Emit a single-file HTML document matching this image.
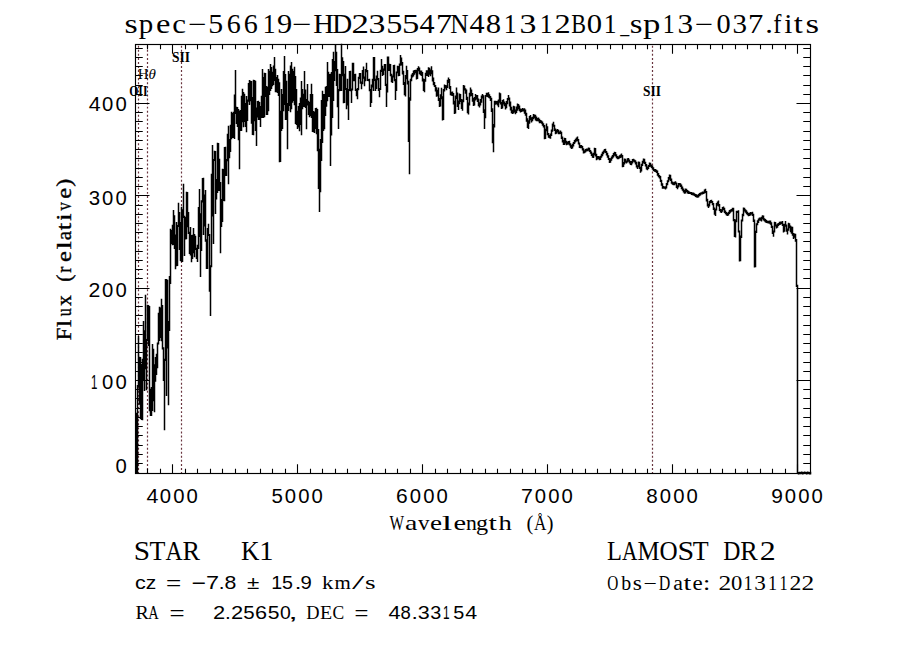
<!DOCTYPE html><html><head><meta charset="utf-8"><title>spec-56619-HD235547N481312B01_sp13-037</title><style>html,body{margin:0;padding:0;background:#fff;overflow:hidden}svg{display:block}text{fill:#000}</style></head><body>
<svg width="900" height="649" viewBox="0 0 900 649">
<rect width="900" height="649" fill="#fff"/>
<line x1="138.5" y1="474" x2="138.5" y2="44" stroke="rgb(105,52,62)" stroke-width="1.2" stroke-dasharray="1.95 2.11"/>
<line x1="147.5" y1="474" x2="147.5" y2="44" stroke="rgb(105,52,62)" stroke-width="1.2" stroke-dasharray="1.95 2.11"/>
<line x1="181.5" y1="474" x2="181.5" y2="44" stroke="rgb(105,52,62)" stroke-width="1.2" stroke-dasharray="1.95 2.11"/>
<line x1="652.5" y1="474" x2="652.5" y2="44" stroke="rgb(105,52,62)" stroke-width="1.2" stroke-dasharray="1.95 2.11"/>
<path d="M147.5 473v-4.3M147.5 45v4.3M160.5 473v-4.3M160.5 45v4.3M172.5 473v-8.7M172.5 45v8.7M185.5 473v-4.3M185.5 45v4.3M197.5 473v-4.3M197.5 45v4.3M210.5 473v-4.3M210.5 45v4.3M222.5 473v-4.3M222.5 45v4.3M235.5 473v-4.3M235.5 45v4.3M247.5 473v-4.3M247.5 45v4.3M260.5 473v-4.3M260.5 45v4.3M272.5 473v-4.3M272.5 45v4.3M285.5 473v-4.3M285.5 45v4.3M297.5 473v-8.7M297.5 45v8.7M310.5 473v-4.3M310.5 45v4.3M322.5 473v-4.3M322.5 45v4.3M335.5 473v-4.3M335.5 45v4.3M347.5 473v-4.3M347.5 45v4.3M360.5 473v-4.3M360.5 45v4.3M372.5 473v-4.3M372.5 45v4.3M385.5 473v-4.3M385.5 45v4.3M397.5 473v-4.3M397.5 45v4.3M410.5 473v-4.3M410.5 45v4.3M422.5 473v-8.7M422.5 45v8.7M435.5 473v-4.3M435.5 45v4.3M447.5 473v-4.3M447.5 45v4.3M460.5 473v-4.3M460.5 45v4.3M472.5 473v-4.3M472.5 45v4.3M485.5 473v-4.3M485.5 45v4.3M497.5 473v-4.3M497.5 45v4.3M510.5 473v-4.3M510.5 45v4.3M522.5 473v-4.3M522.5 45v4.3M535.5 473v-4.3M535.5 45v4.3M547.5 473v-8.7M547.5 45v8.7M560.5 473v-4.3M560.5 45v4.3M572.5 473v-4.3M572.5 45v4.3M585.5 473v-4.3M585.5 45v4.3M597.5 473v-4.3M597.5 45v4.3M610.5 473v-4.3M610.5 45v4.3M622.5 473v-4.3M622.5 45v4.3M635.5 473v-4.3M635.5 45v4.3M647.5 473v-4.3M647.5 45v4.3M660.5 473v-4.3M660.5 45v4.3M672.5 473v-8.7M672.5 45v8.7M685.5 473v-4.3M685.5 45v4.3M697.5 473v-4.3M697.5 45v4.3M710.5 473v-4.3M710.5 45v4.3M722.5 473v-4.3M722.5 45v4.3M735.5 473v-4.3M735.5 45v4.3M747.5 473v-4.3M747.5 45v4.3M760.5 473v-4.3M760.5 45v4.3M772.5 473v-4.3M772.5 45v4.3M785.5 473v-4.3M785.5 45v4.3M797.5 473v-8.7M797.5 45v8.7M136 463.5h6.75M810 463.5h-6.75M136 454.5h6.75M810 454.5h-6.75M136 445.5h6.75M810 445.5h-6.75M136 435.5h6.75M810 435.5h-6.75M136 426.5h6.75M810 426.5h-6.75M136 417.5h6.75M810 417.5h-6.75M136 408.5h6.75M810 408.5h-6.75M136 398.5h6.75M810 398.5h-6.75M136 389.5h6.75M810 389.5h-6.75M136 380.5h13.5M810 380.5h-13.5M136 371.5h6.75M810 371.5h-6.75M136 362.5h6.75M810 362.5h-6.75M136 352.5h6.75M810 352.5h-6.75M136 343.5h6.75M810 343.5h-6.75M136 334.5h6.75M810 334.5h-6.75M136 325.5h6.75M810 325.5h-6.75M136 315.5h6.75M810 315.5h-6.75M136 306.5h6.75M810 306.5h-6.75M136 297.5h6.75M810 297.5h-6.75M136 288.5h13.5M810 288.5h-13.5M136 278.5h6.75M810 278.5h-6.75M136 269.5h6.75M810 269.5h-6.75M136 260.5h6.75M810 260.5h-6.75M136 251.5h6.75M810 251.5h-6.75M136 241.5h6.75M810 241.5h-6.75M136 232.5h6.75M810 232.5h-6.75M136 223.5h6.75M810 223.5h-6.75M136 214.5h6.75M810 214.5h-6.75M136 205.5h6.75M810 205.5h-6.75M136 195.5h13.5M810 195.5h-13.5M136 186.5h6.75M810 186.5h-6.75M136 177.5h6.75M810 177.5h-6.75M136 168.5h6.75M810 168.5h-6.75M136 158.5h6.75M810 158.5h-6.75M136 149.5h6.75M810 149.5h-6.75M136 140.5h6.75M810 140.5h-6.75M136 131.5h6.75M810 131.5h-6.75M136 121.5h6.75M810 121.5h-6.75M136 112.5h6.75M810 112.5h-6.75M136 103.5h13.5M810 103.5h-13.5M136 94.5h6.75M810 94.5h-6.75M136 85.5h6.75M810 85.5h-6.75M136 75.5h6.75M810 75.5h-6.75M136 66.5h6.75M810 66.5h-6.75M136 57.5h6.75M810 57.5h-6.75M136 48.5h6.75M810 48.5h-6.75" stroke="#000" stroke-width="1.1" fill="none"/>
<rect x="135.5" y="44.5" width="675" height="429" fill="none" stroke="#000" stroke-width="1.15"/>
<path d="M135.75 412.7h1.5v61.4h-1.5zM136.75 384.9h1.5v89.1h-1.5zM137.75 336.0h1.5v51.3h-1.5zM138.75 356.8h1.5v48.0h-1.5zM139.75 356.9h1.5v62.2h-1.5zM140.75 364.1h1.5v55.9h-1.5zM141.75 358.8h1.5v61.4h-1.5zM142.75 320.9h1.5v60.2h-1.5zM143.75 330.3h1.5v60.7h-1.5zM144.75 294.8h1.5v74.4h-1.5zM145.75 339.0h1.5v51.2h-1.5zM146.75 304.7h1.5v36.4h-1.5zM147.75 304.9h1.5v41.1h-1.5zM148.75 306.0h1.5v105.3h-1.5zM149.75 388.7h1.5v27.4h-1.5zM150.75 386.9h1.5v29.2h-1.5zM151.75 344.0h1.5v66.9h-1.5zM152.75 348.8h1.5v52.5h-1.5zM153.75 364.2h1.5v48.0h-1.5zM154.75 357.1h1.5v24.7h-1.5zM155.75 353.8h1.5v21.1h-1.5zM156.75 342.4h1.5v25.8h-1.5zM157.75 312.7h1.5v31.9h-1.5zM158.75 306.8h1.5v34.2h-1.5zM159.75 307.6h1.5v30.3h-1.5zM160.75 298.7h1.5v42.5h-1.5zM161.75 304.9h1.5v44.5h-1.5zM162.75 347.3h1.5v33.7h-1.5zM163.75 358.8h1.5v71.5h-1.5zM164.75 278.9h1.5v82.2h-1.5zM165.75 279.1h1.5v117.0h-1.5zM166.75 279.8h1.5v68.6h-1.5zM167.75 320.9h1.5v84.3h-1.5zM168.75 276.1h1.5v55.0h-1.5zM169.75 228.8h1.5v55.2h-1.5zM170.75 230.1h1.5v13.8h-1.5zM171.75 224.7h1.5v20.5h-1.5zM172.75 209.9h1.5v35.2h-1.5zM173.75 215.3h1.5v33.7h-1.5zM174.75 234.6h1.5v34.7h-1.5zM175.75 221.9h1.5v44.3h-1.5zM176.75 225.0h1.5v41.0h-1.5zM177.75 202.8h1.5v24.2h-1.5zM178.75 211.9h1.5v38.2h-1.5zM179.75 221.9h1.5v39.2h-1.5zM180.75 206.8h1.5v55.2h-1.5zM181.75 209.3h1.5v52.6h-1.5zM182.75 183.7h1.5v34.3h-1.5zM183.75 215.7h1.5v40.4h-1.5zM184.75 217.0h1.5v22.6h-1.5zM185.75 191.7h1.5v47.6h-1.5zM186.75 191.9h1.5v35.3h-1.5zM187.75 212.0h1.5v22.0h-1.5zM188.75 231.8h1.5v22.2h-1.5zM189.75 226.9h1.5v28.7h-1.5zM190.75 235.1h1.5v27.1h-1.5zM191.75 234.8h1.5v24.2h-1.5zM192.75 228.0h1.5v25.2h-1.5zM193.75 234.1h1.5v23.1h-1.5zM194.75 235.8h1.5v14.2h-1.5zM195.75 247.7h1.5v11.4h-1.5zM196.75 244.7h1.5v17.2h-1.5zM197.75 206.9h1.5v42.1h-1.5zM198.75 189.0h1.5v48.1h-1.5zM199.75 213.3h1.5v63.6h-1.5zM200.75 200.2h1.5v50.8h-1.5zM201.75 178.1h1.5v24.4h-1.5zM202.75 177.8h1.5v57.3h-1.5zM203.75 194.4h1.5v32.0h-1.5zM204.75 190.1h1.5v51.7h-1.5zM205.75 239.3h1.5v29.8h-1.5zM206.75 228.0h1.5v41.1h-1.5zM207.75 223.7h1.5v12.2h-1.5zM208.75 233.9h1.5v57.9h-1.5zM209.75 265.3h1.5v50.8h-1.5zM210.75 173.8h1.5v93.5h-1.5zM211.75 144.9h1.5v71.7h-1.5zM212.75 159.0h1.5v85.1h-1.5zM213.75 150.8h1.5v10.3h-1.5zM214.75 150.9h1.5v63.0h-1.5zM215.75 179.1h1.5v20.5h-1.5zM216.75 142.8h1.5v50.3h-1.5zM217.75 143.0h1.5v48.1h-1.5zM218.75 158.7h1.5v32.2h-1.5zM219.75 181.9h1.5v71.4h-1.5zM220.75 199.0h1.5v28.1h-1.5zM221.75 168.7h1.5v53.3h-1.5zM222.75 168.9h1.5v32.0h-1.5zM223.75 147.0h1.5v54.2h-1.5zM224.75 146.8h1.5v29.3h-1.5zM225.75 158.9h1.5v17.1h-1.5zM226.75 133.7h1.5v27.6h-1.5zM227.75 125.8h1.5v58.4h-1.5zM228.75 139.0h1.5v19.3h-1.5zM229.75 124.8h1.5v27.2h-1.5zM230.75 111.8h1.5v27.4h-1.5zM231.75 113.0h1.5v25.1h-1.5zM232.75 111.7h1.5v26.3h-1.5zM233.75 94.5h1.5v44.4h-1.5zM234.75 70.0h1.5v44.0h-1.5zM235.75 106.8h1.5v17.3h-1.5zM236.75 106.9h1.5v20.1h-1.5zM237.75 109.1h1.5v31.2h-1.5zM238.75 110.8h1.5v58.4h-1.5zM239.75 109.9h1.5v21.1h-1.5zM240.75 95.8h1.5v35.2h-1.5zM241.75 88.8h1.5v33.4h-1.5zM242.75 92.0h1.5v35.2h-1.5zM243.75 93.7h1.5v28.2h-1.5zM244.75 102.9h1.5v24.1h-1.5zM245.75 96.0h1.5v36.2h-1.5zM246.75 99.6h1.5v21.5h-1.5zM247.75 82.9h1.5v18.9h-1.5zM248.75 80.0h1.5v24.9h-1.5zM249.75 80.8h1.5v20.4h-1.5zM250.75 80.9h1.5v42.8h-1.5zM251.75 97.1h1.5v37.9h-1.5zM252.75 79.8h1.5v55.5h-1.5zM253.75 80.0h1.5v41.2h-1.5zM254.75 80.7h1.5v50.3h-1.5zM255.75 107.5h1.5v38.4h-1.5zM256.75 101.0h1.5v16.4h-1.5zM257.75 100.7h1.5v19.4h-1.5zM258.75 101.9h1.5v18.1h-1.5zM259.75 105.9h1.5v21.1h-1.5zM260.75 95.8h1.5v22.3h-1.5zM261.75 68.9h1.5v49.2h-1.5zM262.75 76.9h1.5v41.1h-1.5zM263.75 72.8h1.5v44.5h-1.5zM264.75 72.9h1.5v24.2h-1.5zM265.75 86.1h1.5v29.0h-1.5zM266.75 86.8h1.5v28.1h-1.5zM267.75 69.0h1.5v42.3h-1.5zM268.75 70.7h1.5v24.4h-1.5zM269.75 63.9h1.5v27.2h-1.5zM270.75 67.0h1.5v21.9h-1.5zM271.75 71.8h1.5v14.5h-1.5zM272.75 65.6h1.5v19.5h-1.5zM273.75 57.0h1.5v24.0h-1.5zM274.75 68.8h1.5v23.5h-1.5zM275.75 76.9h1.5v15.3h-1.5zM276.75 75.1h1.5v18.0h-1.5zM277.75 78.8h1.5v17.1h-1.5zM278.75 82.3h1.5v80.0h-1.5zM279.75 110.7h1.5v51.4h-1.5zM280.75 88.9h1.5v42.2h-1.5zM281.75 94.0h1.5v34.9h-1.5zM282.75 70.9h1.5v40.3h-1.5zM283.75 55.9h1.5v49.2h-1.5zM284.75 74.0h1.5v46.0h-1.5zM285.75 80.8h1.5v39.1h-1.5zM286.75 102.9h1.5v46.3h-1.5zM287.75 71.1h1.5v40.0h-1.5zM288.75 73.8h1.5v32.2h-1.5zM289.75 65.5h1.5v46.8h-1.5zM290.75 62.1h1.5v47.1h-1.5zM291.75 68.8h1.5v33.9h-1.5zM292.75 71.0h1.5v30.0h-1.5zM293.75 66.7h1.5v38.5h-1.5zM294.75 76.0h1.5v48.1h-1.5zM295.75 89.0h1.5v36.0h-1.5zM296.75 110.8h1.5v18.2h-1.5zM297.75 105.9h1.5v21.5h-1.5zM298.75 103.1h1.5v28.1h-1.5zM299.75 97.6h1.5v27.4h-1.5zM300.75 80.9h1.5v54.3h-1.5zM301.75 89.1h1.5v20.1h-1.5zM302.75 93.8h1.5v13.2h-1.5zM303.75 71.0h1.5v36.0h-1.5zM304.75 89.4h1.5v18.5h-1.5zM305.75 98.9h1.5v30.3h-1.5zM306.75 84.0h1.5v21.4h-1.5zM307.75 100.8h1.5v14.2h-1.5zM308.75 101.9h1.5v15.3h-1.5zM309.75 94.0h1.5v22.1h-1.5zM310.75 83.8h1.5v34.2h-1.5zM311.75 93.9h1.5v38.0h-1.5zM312.75 111.1h1.5v21.1h-1.5zM313.75 111.8h1.5v21.3h-1.5zM314.75 108.0h1.5v21.0h-1.5zM315.75 107.7h1.5v26.6h-1.5zM316.75 108.9h1.5v42.3h-1.5zM317.75 129.0h1.5v60.1h-1.5zM318.75 148.7h1.5v63.2h-1.5zM319.75 138.9h1.5v53.4h-1.5zM320.75 100.0h1.5v61.1h-1.5zM321.75 90.8h1.5v52.3h-1.5zM322.75 93.9h1.5v37.0h-1.5zM323.75 94.1h1.5v35.1h-1.5zM324.75 86.8h1.5v29.3h-1.5zM325.75 86.0h1.5v20.7h-1.5zM326.75 62.1h1.5v39.2h-1.5zM327.75 71.8h1.5v25.3h-1.5zM328.75 74.0h1.5v23.1h-1.5zM329.75 73.7h1.5v92.2h-1.5zM330.75 71.9h1.5v63.7h-1.5zM331.75 59.0h1.5v59.1h-1.5zM332.75 51.8h1.5v49.3h-1.5zM333.75 60.9h1.5v20.0h-1.5zM334.75 44.1h1.5v27.2h-1.5zM335.75 51.8h1.5v34.3h-1.5zM336.75 68.9h1.5v38.3h-1.5zM337.75 89.1h1.5v39.8h-1.5zM338.75 73.8h1.5v17.4h-1.5zM339.75 74.0h1.5v17.1h-1.5zM340.75 43.7h1.5v47.3h-1.5zM341.75 57.2h1.5v19.1h-1.5zM342.75 61.0h1.5v42.2h-1.5zM343.75 73.8h1.5v29.2h-1.5zM344.75 65.9h1.5v24.1h-1.5zM345.75 88.1h1.5v21.1h-1.5zM346.75 78.8h1.5v26.7h-1.5zM347.75 88.9h1.5v31.1h-1.5zM348.75 71.1h1.5v19.8h-1.5zM349.75 70.8h1.5v20.4h-1.5zM350.75 88.4h1.5v14.7h-1.5zM351.75 62.7h1.5v27.7h-1.5zM352.75 62.8h1.5v18.4h-1.5zM353.75 74.0h1.5v7.2h-1.5zM354.75 73.7h1.5v17.3h-1.5zM355.75 88.9h1.5v7.4h-1.5zM356.75 88.0h1.5v11.2h-1.5zM357.75 76.8h1.5v13.4h-1.5zM358.75 72.9h1.5v6.1h-1.5zM359.75 73.1h1.5v10.6h-1.5zM360.75 81.6h1.5v7.7h-1.5zM361.75 70.1h1.5v14.2h-1.5zM362.75 66.6h1.5v12.1h-1.5zM363.75 76.5h1.5v9.8h-1.5zM364.75 69.0h1.5v12.2h-1.5zM365.75 62.7h1.5v9.5h-1.5zM366.75 70.0h1.5v11.0h-1.5zM367.75 79.0h1.5v2.3h-1.5zM368.75 78.8h1.5v12.4h-1.5zM369.75 88.9h1.5v18.1h-1.5zM370.75 84.6h1.5v18.3h-1.5zM371.75 78.8h1.5v8.7h-1.5zM372.75 56.9h1.5v34.2h-1.5zM373.75 57.1h1.5v23.9h-1.5zM374.75 78.8h1.5v12.1h-1.5zM375.75 75.5h1.5v13.5h-1.5zM376.75 70.7h1.5v9.5h-1.5zM377.75 77.9h1.5v13.0h-1.5zM378.75 87.9h1.5v9.4h-1.5zM379.75 69.7h1.5v20.4h-1.5zM380.75 58.9h1.5v13.1h-1.5zM381.75 65.7h1.5v10.3h-1.5zM382.75 68.5h1.5v6.5h-1.5zM383.75 63.9h1.5v6.9h-1.5zM384.75 64.1h1.5v22.0h-1.5zM385.75 83.8h1.5v23.1h-1.5zM386.75 56.5h1.5v35.9h-1.5zM387.75 56.6h1.5v14.5h-1.5zM388.75 63.8h1.5v7.2h-1.5zM389.75 64.0h1.5v12.3h-1.5zM390.75 73.7h1.5v8.5h-1.5zM391.75 75.5h1.5v7.5h-1.5zM392.75 65.0h1.5v12.6h-1.5zM393.75 64.8h1.5v16.5h-1.5zM394.75 78.9h1.5v21.2h-1.5zM395.75 71.4h1.5v19.7h-1.5zM396.75 65.8h1.5v7.5h-1.5zM397.75 65.9h1.5v10.3h-1.5zM398.75 63.5h1.5v12.6h-1.5zM399.75 55.0h1.5v10.7h-1.5zM400.75 57.5h1.5v7.9h-1.5zM401.75 62.1h1.5v12.5h-1.5zM402.75 70.7h1.5v14.3h-1.5zM403.75 82.1h1.5v13.2h-1.5zM404.75 74.9h1.5v21.5h-1.5zM405.75 65.8h1.5v13.4h-1.5zM406.75 69.9h1.5v14.6h-1.5zM407.75 80.8h1.5v61.1h-1.5zM408.75 97.2h1.5v77.0h-1.5zM409.75 78.8h1.5v21.9h-1.5zM410.75 74.6h1.5v6.6h-1.5zM411.75 72.9h1.5v4.7h-1.5zM412.75 70.5h1.5v5.9h-1.5zM413.75 70.0h1.5v4.7h-1.5zM414.75 69.7h1.5v3.6h-1.5zM415.75 69.7h1.5v9.8h-1.5zM416.75 67.9h1.5v11.1h-1.5zM417.75 66.3h1.5v5.0h-1.5zM418.75 67.6h1.5v6.6h-1.5zM419.75 70.5h1.5v4.8h-1.5zM420.75 70.6h1.5v5.3h-1.5zM421.75 71.9h1.5v9.5h-1.5zM422.75 78.5h1.5v12.5h-1.5zM423.75 79.1h1.5v13.1h-1.5zM424.75 72.8h1.5v9.0h-1.5zM425.75 70.2h1.5v5.8h-1.5zM426.75 70.2h1.5v5.7h-1.5zM427.75 67.2h1.5v9.9h-1.5zM428.75 67.8h1.5v6.9h-1.5zM429.75 69.6h1.5v6.6h-1.5zM430.75 66.3h1.5v7.9h-1.5zM431.75 70.2h1.5v11.3h-1.5zM432.75 77.4h1.5v7.8h-1.5zM433.75 82.1h1.5v5.0h-1.5zM434.75 85.1h1.5v6.3h-1.5zM435.75 87.2h1.5v9.6h-1.5zM436.75 89.7h1.5v6.6h-1.5zM437.75 87.6h1.5v13.4h-1.5zM438.75 98.1h1.5v9.0h-1.5zM439.75 94.3h1.5v12.3h-1.5zM440.75 87.7h1.5v11.6h-1.5zM441.75 96.3h1.5v24.2h-1.5zM442.75 88.9h1.5v31.1h-1.5zM443.75 84.4h1.5v7.1h-1.5zM444.75 85.0h1.5v3.6h-1.5zM445.75 85.2h1.5v5.1h-1.5zM446.75 79.7h1.5v8.4h-1.5zM447.75 77.5h1.5v5.6h-1.5zM448.75 79.1h1.5v9.9h-1.5zM449.75 86.0h1.5v9.3h-1.5zM450.75 91.8h1.5v3.9h-1.5zM451.75 91.6h1.5v4.5h-1.5zM452.75 93.0h1.5v11.5h-1.5zM453.75 100.8h1.5v13.2h-1.5zM454.75 95.4h1.5v18.2h-1.5zM455.75 87.4h1.5v11.5h-1.5zM456.75 92.4h1.5v14.6h-1.5zM457.75 100.6h1.5v9.4h-1.5zM458.75 93.5h1.5v10.7h-1.5zM459.75 94.1h1.5v7.8h-1.5zM460.75 98.9h1.5v10.0h-1.5zM461.75 99.5h1.5v11.3h-1.5zM462.75 85.0h1.5v17.3h-1.5zM463.75 85.6h1.5v4.9h-1.5zM464.75 88.3h1.5v5.5h-1.5zM465.75 89.4h1.5v10.7h-1.5zM466.75 96.7h1.5v16.5h-1.5zM467.75 102.4h1.5v12.0h-1.5zM468.75 92.8h1.5v12.6h-1.5zM469.75 87.4h1.5v9.1h-1.5zM470.75 89.4h1.5v6.7h-1.5zM471.75 93.0h1.5v8.8h-1.5zM472.75 98.1h1.5v7.8h-1.5zM473.75 97.1h1.5v8.3h-1.5zM474.75 94.1h1.5v6.4h-1.5zM475.75 94.9h1.5v4.6h-1.5zM476.75 95.1h1.5v7.0h-1.5zM477.75 98.6h1.5v7.7h-1.5zM478.75 102.2h1.5v5.3h-1.5zM479.75 99.0h1.5v6.4h-1.5zM480.75 95.4h1.5v7.3h-1.5zM481.75 94.0h1.5v4.5h-1.5zM482.75 95.2h1.5v17.9h-1.5zM483.75 109.3h1.5v19.6h-1.5zM484.75 94.9h1.5v23.3h-1.5zM485.75 92.7h1.5v4.1h-1.5zM486.75 92.7h1.5v4.2h-1.5zM487.75 92.3h1.5v5.5h-1.5zM488.75 94.2h1.5v4.3h-1.5zM489.75 95.9h1.5v5.0h-1.5zM490.75 97.8h1.5v14.3h-1.5zM491.75 108.3h1.5v34.9h-1.5zM492.75 124.1h1.5v28.2h-1.5zM493.75 100.7h1.5v26.9h-1.5zM494.75 100.8h1.5v4.0h-1.5zM495.75 101.1h1.5v3.2h-1.5zM496.75 100.7h1.5v4.8h-1.5zM497.75 99.5h1.5v7.8h-1.5zM498.75 92.6h1.5v10.1h-1.5zM499.75 93.2h1.5v11.4h-1.5zM500.75 101.9h1.5v7.1h-1.5zM501.75 99.9h1.5v8.5h-1.5zM502.75 99.3h1.5v5.1h-1.5zM503.75 101.5h1.5v4.8h-1.5zM504.75 102.9h1.5v6.5h-1.5zM505.75 101.1h1.5v7.2h-1.5zM506.75 98.1h1.5v6.2h-1.5zM507.75 95.0h1.5v5.3h-1.5zM508.75 97.6h1.5v8.8h-1.5zM509.75 101.5h1.5v9.0h-1.5zM510.75 106.7h1.5v6.5h-1.5zM511.75 109.8h1.5v4.2h-1.5zM512.75 105.7h1.5v7.7h-1.5zM513.75 106.2h1.5v6.3h-1.5zM514.75 109.6h1.5v4.7h-1.5zM515.75 106.4h1.5v6.7h-1.5zM516.75 103.4h1.5v7.3h-1.5zM517.75 104.0h1.5v5.2h-1.5zM518.75 105.4h1.5v5.8h-1.5zM519.75 108.5h1.5v3.9h-1.5zM520.75 109.1h1.5v2.9h-1.5zM521.75 108.1h1.5v3.5h-1.5zM522.75 108.6h1.5v3.0h-1.5zM523.75 108.2h1.5v5.5h-1.5zM524.75 109.6h1.5v6.2h-1.5zM525.75 112.7h1.5v9.1h-1.5zM526.75 118.2h1.5v9.7h-1.5zM527.75 120.3h1.5v8.8h-1.5zM528.75 115.9h1.5v7.8h-1.5zM529.75 114.9h1.5v5.3h-1.5zM530.75 117.3h1.5v5.1h-1.5zM531.75 116.7h1.5v4.6h-1.5zM532.75 114.0h1.5v5.2h-1.5zM533.75 114.6h1.5v3.7h-1.5zM534.75 114.7h1.5v5.9h-1.5zM535.75 116.5h1.5v4.7h-1.5zM536.75 118.0h1.5v3.3h-1.5zM537.75 117.5h1.5v3.9h-1.5zM538.75 118.7h1.5v4.5h-1.5zM539.75 120.0h1.5v3.0h-1.5zM540.75 120.5h1.5v3.3h-1.5zM541.75 121.5h1.5v4.2h-1.5zM542.75 123.3h1.5v4.3h-1.5zM543.75 124.9h1.5v14.3h-1.5zM544.75 128.8h1.5v10.2h-1.5zM545.75 123.5h1.5v7.8h-1.5zM546.75 126.3h1.5v9.0h-1.5zM547.75 133.0h1.5v4.7h-1.5zM548.75 135.1h1.5v3.2h-1.5zM549.75 133.4h1.5v5.4h-1.5zM550.75 129.6h1.5v6.3h-1.5zM551.75 123.4h1.5v8.4h-1.5zM552.75 121.8h1.5v4.9h-1.5zM553.75 124.8h1.5v6.3h-1.5zM554.75 128.5h1.5v5.7h-1.5zM555.75 129.8h1.5v3.9h-1.5zM556.75 129.1h1.5v3.4h-1.5zM557.75 129.7h1.5v4.6h-1.5zM558.75 131.4h1.5v2.8h-1.5zM559.75 130.5h1.5v3.4h-1.5zM560.75 131.7h1.5v7.4h-1.5zM561.75 136.6h1.5v6.0h-1.5zM562.75 139.9h1.5v5.2h-1.5zM563.75 137.8h1.5v7.1h-1.5zM564.75 138.0h1.5v5.5h-1.5zM565.75 140.8h1.5v4.4h-1.5zM566.75 141.7h1.5v3.0h-1.5zM567.75 141.1h1.5v3.3h-1.5zM568.75 140.7h1.5v4.9h-1.5zM569.75 143.2h1.5v4.6h-1.5zM570.75 145.1h1.5v3.9h-1.5zM571.75 143.8h1.5v4.8h-1.5zM572.75 142.0h1.5v4.4h-1.5zM573.75 140.1h1.5v4.0h-1.5zM574.75 138.8h1.5v3.6h-1.5zM575.75 137.6h1.5v3.9h-1.5zM576.75 136.6h1.5v4.7h-1.5zM577.75 138.9h1.5v5.7h-1.5zM578.75 142.6h1.5v5.3h-1.5zM579.75 145.0h1.5v3.3h-1.5zM580.75 144.9h1.5v3.3h-1.5zM581.75 146.1h1.5v4.4h-1.5zM582.75 148.2h1.5v5.2h-1.5zM583.75 150.2h1.5v3.1h-1.5zM584.75 149.0h1.5v3.4h-1.5zM585.75 148.6h1.5v2.8h-1.5zM586.75 148.4h1.5v2.8h-1.5zM587.75 147.6h1.5v3.1h-1.5zM588.75 147.8h1.5v4.2h-1.5zM589.75 150.0h1.5v3.8h-1.5zM590.75 151.5h1.5v4.6h-1.5zM591.75 153.6h1.5v4.1h-1.5zM592.75 152.8h1.5v5.3h-1.5zM593.75 147.7h1.5v7.5h-1.5zM594.75 147.9h1.5v8.7h-1.5zM595.75 153.8h1.5v6.4h-1.5zM596.75 156.1h1.5v3.4h-1.5zM597.75 156.0h1.5v3.3h-1.5zM598.75 156.4h1.5v3.9h-1.5zM599.75 155.7h1.5v4.4h-1.5zM600.75 153.8h1.5v4.0h-1.5zM601.75 151.7h1.5v4.5h-1.5zM602.75 150.4h1.5v3.9h-1.5zM603.75 149.1h1.5v3.5h-1.5zM604.75 148.7h1.5v4.3h-1.5zM605.75 151.0h1.5v4.5h-1.5zM606.75 152.7h1.5v5.0h-1.5zM607.75 155.3h1.5v4.8h-1.5zM608.75 158.0h1.5v5.0h-1.5zM609.75 158.2h1.5v4.6h-1.5zM610.75 156.5h1.5v4.3h-1.5zM611.75 155.1h1.5v3.7h-1.5zM612.75 153.1h1.5v4.3h-1.5zM613.75 151.8h1.5v4.0h-1.5zM614.75 152.0h1.5v4.5h-1.5zM615.75 154.2h1.5v4.0h-1.5zM616.75 156.1h1.5v3.1h-1.5zM617.75 156.5h1.5v2.7h-1.5zM618.75 155.3h1.5v3.1h-1.5zM619.75 154.5h1.5v3.5h-1.5zM620.75 153.5h1.5v3.9h-1.5zM621.75 154.9h1.5v12.3h-1.5zM622.75 162.0h1.5v5.0h-1.5zM623.75 158.6h1.5v5.8h-1.5zM624.75 158.8h1.5v4.0h-1.5zM625.75 160.5h1.5v3.0h-1.5zM626.75 158.2h1.5v4.3h-1.5zM627.75 157.9h1.5v3.9h-1.5zM628.75 159.5h1.5v4.1h-1.5zM629.75 161.1h1.5v4.0h-1.5zM630.75 161.0h1.5v4.2h-1.5zM631.75 159.0h1.5v4.4h-1.5zM632.75 158.7h1.5v3.1h-1.5zM633.75 159.6h1.5v3.0h-1.5zM634.75 160.2h1.5v4.3h-1.5zM635.75 161.8h1.5v5.8h-1.5zM636.75 165.3h1.5v3.8h-1.5zM637.75 161.6h1.5v5.7h-1.5zM638.75 161.8h1.5v7.3h-1.5zM639.75 166.8h1.5v6.0h-1.5zM640.75 163.8h1.5v7.8h-1.5zM641.75 160.8h1.5v5.3h-1.5zM642.75 158.5h1.5v4.7h-1.5zM643.75 158.7h1.5v5.2h-1.5zM644.75 161.7h1.5v4.8h-1.5zM645.75 164.1h1.5v5.4h-1.5zM646.75 166.6h1.5v3.7h-1.5zM647.75 164.9h1.5v4.1h-1.5zM648.75 162.6h1.5v4.3h-1.5zM649.75 162.8h1.5v4.0h-1.5zM650.75 164.5h1.5v3.6h-1.5zM651.75 165.5h1.5v4.0h-1.5zM652.75 167.2h1.5v3.7h-1.5zM653.75 169.1h1.5v2.7h-1.5zM654.75 169.1h1.5v2.9h-1.5zM655.75 169.7h1.5v3.3h-1.5zM656.75 170.5h1.5v5.3h-1.5zM657.75 173.0h1.5v4.3h-1.5zM658.75 175.0h1.5v3.6h-1.5zM659.75 176.0h1.5v5.9h-1.5zM660.75 179.7h1.5v6.0h-1.5zM661.75 183.3h1.5v5.4h-1.5zM662.75 186.0h1.5v2.7h-1.5zM663.75 186.5h1.5v2.3h-1.5zM664.75 186.2h1.5v3.2h-1.5zM665.75 182.9h1.5v5.5h-1.5zM666.75 180.2h1.5v5.0h-1.5zM667.75 177.0h1.5v5.2h-1.5zM668.75 174.4h1.5v5.4h-1.5zM669.75 174.7h1.5v6.4h-1.5zM670.75 178.5h1.5v5.2h-1.5zM671.75 181.5h1.5v3.3h-1.5zM672.75 182.3h1.5v3.0h-1.5zM673.75 181.7h1.5v3.5h-1.5zM674.75 181.2h1.5v3.1h-1.5zM675.75 182.4h1.5v5.7h-1.5zM676.75 185.2h1.5v4.1h-1.5zM677.75 182.9h1.5v4.7h-1.5zM678.75 183.1h1.5v2.4h-1.5zM679.75 183.3h1.5v3.8h-1.5zM680.75 184.6h1.5v4.6h-1.5zM681.75 186.6h1.5v4.2h-1.5zM682.75 188.6h1.5v4.0h-1.5zM683.75 190.1h1.5v3.6h-1.5zM684.75 188.6h1.5v5.0h-1.5zM685.75 188.8h1.5v3.3h-1.5zM686.75 190.1h1.5v3.5h-1.5zM687.75 190.8h1.5v3.1h-1.5zM688.75 191.5h1.5v2.5h-1.5zM689.75 192.0h1.5v2.1h-1.5zM690.75 191.9h1.5v3.0h-1.5zM691.75 192.4h1.5v2.8h-1.5zM692.75 192.5h1.5v3.0h-1.5zM693.75 193.2h1.5v2.7h-1.5zM694.75 194.0h1.5v3.0h-1.5zM695.75 194.2h1.5v3.2h-1.5zM696.75 194.9h1.5v2.8h-1.5zM697.75 194.0h1.5v3.5h-1.5zM698.75 193.0h1.5v3.3h-1.5zM699.75 192.5h1.5v2.9h-1.5zM700.75 192.2h1.5v2.4h-1.5zM701.75 191.5h1.5v3.1h-1.5zM702.75 191.4h1.5v2.7h-1.5zM703.75 189.6h1.5v4.0h-1.5zM704.75 188.7h1.5v4.2h-1.5zM705.75 190.9h1.5v10.5h-1.5zM706.75 198.7h1.5v7.9h-1.5zM707.75 203.7h1.5v4.3h-1.5zM708.75 201.0h1.5v5.4h-1.5zM709.75 200.0h1.5v3.3h-1.5zM710.75 199.8h1.5v3.3h-1.5zM711.75 201.0h1.5v4.3h-1.5zM712.75 203.0h1.5v7.0h-1.5zM713.75 207.4h1.5v7.4h-1.5zM714.75 208.7h1.5v7.4h-1.5zM715.75 203.0h1.5v7.6h-1.5zM716.75 201.5h1.5v4.2h-1.5zM717.75 200.5h1.5v6.0h-1.5zM718.75 204.1h1.5v7.0h-1.5zM719.75 209.0h1.5v3.5h-1.5zM720.75 209.2h1.5v3.7h-1.5zM721.75 207.0h1.5v4.8h-1.5zM722.75 206.4h1.5v3.7h-1.5zM723.75 207.8h1.5v5.3h-1.5zM724.75 210.5h1.5v3.8h-1.5zM725.75 212.1h1.5v3.5h-1.5zM726.75 212.9h1.5v3.1h-1.5zM727.75 211.8h1.5v3.8h-1.5zM728.75 210.1h1.5v4.0h-1.5zM729.75 209.6h1.5v3.1h-1.5zM730.75 209.0h1.5v2.7h-1.5zM731.75 207.8h1.5v3.6h-1.5zM732.75 207.8h1.5v13.5h-1.5zM733.75 219.1h1.5v17.9h-1.5zM734.75 219.6h1.5v17.8h-1.5zM735.75 210.7h1.5v11.6h-1.5zM736.75 210.7h1.5v2.3h-1.5zM737.75 210.3h1.5v22.2h-1.5zM738.75 230.4h1.5v31.0h-1.5zM739.75 235.4h1.5v25.9h-1.5zM740.75 219.4h1.5v18.6h-1.5zM741.75 213.8h1.5v7.8h-1.5zM742.75 207.6h1.5v8.6h-1.5zM743.75 207.8h1.5v3.7h-1.5zM744.75 209.3h1.5v3.4h-1.5zM745.75 210.2h1.5v4.1h-1.5zM746.75 211.7h1.5v3.6h-1.5zM747.75 213.0h1.5v3.2h-1.5zM748.75 212.7h1.5v3.3h-1.5zM749.75 212.1h1.5v3.3h-1.5zM750.75 212.2h1.5v2.3h-1.5zM751.75 211.7h1.5v4.3h-1.5zM752.75 213.8h1.5v8.2h-1.5zM753.75 219.5h1.5v47.9h-1.5zM754.75 230.7h1.5v36.6h-1.5zM755.75 223.3h1.5v9.6h-1.5zM756.75 220.2h1.5v5.1h-1.5zM757.75 218.5h1.5v4.5h-1.5zM758.75 217.5h1.5v3.3h-1.5zM759.75 217.5h1.5v3.3h-1.5zM760.75 216.8h1.5v4.6h-1.5zM761.75 215.3h1.5v4.0h-1.5zM762.75 215.6h1.5v4.8h-1.5zM763.75 218.2h1.5v3.3h-1.5zM764.75 219.0h1.5v3.6h-1.5zM765.75 219.9h1.5v3.1h-1.5zM766.75 220.7h1.5v2.5h-1.5zM767.75 220.7h1.5v2.7h-1.5zM768.75 220.6h1.5v3.1h-1.5zM769.75 220.6h1.5v4.2h-1.5zM770.75 222.2h1.5v5.8h-1.5zM771.75 225.8h1.5v8.3h-1.5zM772.75 230.4h1.5v6.4h-1.5zM773.75 221.7h1.5v10.8h-1.5zM774.75 221.9h1.5v4.6h-1.5zM775.75 224.6h1.5v3.8h-1.5zM776.75 223.6h1.5v4.1h-1.5zM777.75 223.0h1.5v3.0h-1.5zM778.75 221.8h1.5v3.1h-1.5zM779.75 221.6h1.5v3.1h-1.5zM780.75 221.6h1.5v2.5h-1.5zM781.75 221.0h1.5v5.0h-1.5zM782.75 223.7h1.5v8.8h-1.5zM783.75 223.7h1.5v8.1h-1.5zM784.75 221.0h1.5v5.7h-1.5zM785.75 224.4h1.5v7.4h-1.5zM786.75 228.5h1.5v6.0h-1.5zM787.75 222.7h1.5v8.0h-1.5zM788.75 223.2h1.5v5.0h-1.5zM789.75 225.6h1.5v6.6h-1.5zM790.75 226.4h1.5v7.4h-1.5zM791.75 226.7h1.5v9.0h-1.5zM792.75 233.0h1.5v5.9h-1.5zM793.75 233.5h1.5v4.2h-1.5zM794.75 233.7h1.5v8.1h-1.5zM795.75 239.1h1.5v48.0h-1.5zM796.75 284.8h1.5v189.3h-1.5zM797.75 472.1h1.5v2.4h-1.5zM798.75 471.7h1.5v2.6h-1.5zM799.75 471.9h1.5v2.3h-1.5zM800.75 471.5h1.5v2.5h-1.5zM801.75 471.7h1.5v2.7h-1.5zM802.75 471.9h1.5v2.3h-1.5zM803.75 471.6h1.5v2.5h-1.5zM804.75 471.8h1.5v2.2h-1.5zM805.75 472.0h1.5v2.4h-1.5zM806.75 471.6h1.5v2.6h-1.5zM807.75 471.8h1.5v2.2h-1.5zM808.75 472.0h1.5v2.4h-1.5zM809.75 471.7h1.5v2.7h-1.5z" fill="#000"/>
<text transform="translate(125.80 32.6) scale(1.282 1.0)" x="-1.09" style='font-family:"Liberation Serif", serif;font-size:26.5px'>s</text>
<text transform="translate(139.10 32.6) scale(1.094 1.0)" x="-0.42" style='font-family:"Liberation Serif", serif;font-size:26.5px'>p</text>
<text transform="translate(157.30 32.6) scale(1.224 1.0)" x="-1.03" style='font-family:"Liberation Serif", serif;font-size:26.5px'>e</text>
<text transform="translate(173.30 32.6) scale(1.167 1.0)" x="-1.01" style='font-family:"Liberation Serif", serif;font-size:26.5px'>c</text>
<text transform="translate(189.80 32.6) scale(1.234 1.0)" x="-1.33" style='font-family:"Liberation Serif", serif;font-size:26.5px'>−</text>
<text transform="translate(210.00 32.6) scale(1.124 1.0)" x="-1.54" style='font-family:"Liberation Serif", serif;font-size:26.5px'>5</text>
<text transform="translate(228.00 32.6) scale(1.060 1.0)" x="-1.14" style='font-family:"Liberation Serif", serif;font-size:26.5px'>6</text>
<text transform="translate(245.00 32.6) scale(1.060 1.0)" x="-1.14" style='font-family:"Liberation Serif", serif;font-size:26.5px'>6</text>
<text transform="translate(265.00 32.6) scale(0.965 1.0)" x="-2.33" style='font-family:"Liberation Serif", serif;font-size:26.5px'>1</text>
<text transform="translate(278.00 32.6) scale(1.149 1.0)" x="-0.85" style='font-family:"Liberation Serif", serif;font-size:26.5px'>9</text>
<text transform="translate(294.00 32.6) scale(1.298 1.0)" x="-1.33" style='font-family:"Liberation Serif", serif;font-size:26.5px'>−</text>
<text transform="translate(314.00 32.6) scale(1.080 1.0)" x="-0.77" style='font-family:"Liberation Serif", serif;font-size:26.5px'>H</text>
<text transform="translate(333.00 32.6) scale(1.040 1.0)" x="-0.77" style='font-family:"Liberation Serif", serif;font-size:26.5px'>D</text>
<text transform="translate(353.00 32.6) scale(1.317 1.0)" x="-1.17" style='font-family:"Liberation Serif", serif;font-size:26.5px'>2</text>
<text transform="translate(370.00 32.6) scale(1.279 1.0)" x="-1.27" style='font-family:"Liberation Serif", serif;font-size:26.5px'>3</text>
<text transform="translate(388.00 32.6) scale(1.217 1.0)" x="-1.54" style='font-family:"Liberation Serif", serif;font-size:26.5px'>5</text>
<text transform="translate(404.00 32.6) scale(1.311 1.0)" x="-1.54" style='font-family:"Liberation Serif", serif;font-size:26.5px'>5</text>
<text transform="translate(420.00 32.6) scale(1.139 1.0)" x="-0.53" style='font-family:"Liberation Serif", serif;font-size:26.5px'>4</text>
<text transform="translate(438.00 32.6) scale(1.211 1.0)" x="-1.75" style='font-family:"Liberation Serif", serif;font-size:26.5px'>7</text>
<text transform="translate(451.00 32.6) scale(0.957 1.0)" x="-0.77" style='font-family:"Liberation Serif", serif;font-size:26.5px'>N</text>
<text transform="translate(470.00 32.6) scale(1.139 1.0)" x="-0.53" style='font-family:"Liberation Serif", serif;font-size:26.5px'>4</text>
<text transform="translate(487.00 32.6) scale(1.157 1.0)" x="-1.01" style='font-family:"Liberation Serif", serif;font-size:26.5px'>8</text>
<text transform="translate(506.00 32.6) scale(0.965 1.0)" x="-2.33" style='font-family:"Liberation Serif", serif;font-size:26.5px'>1</text>
<text transform="translate(521.00 32.6) scale(1.279 1.0)" x="-1.27" style='font-family:"Liberation Serif", serif;font-size:26.5px'>3</text>
<text transform="translate(542.00 32.6) scale(0.965 1.0)" x="-2.33" style='font-family:"Liberation Serif", serif;font-size:26.5px'>1</text>
<text transform="translate(556.00 32.6) scale(1.223 1.0)" x="-1.17" style='font-family:"Liberation Serif", serif;font-size:26.5px'>2</text>
<text transform="translate(572.00 32.6) scale(0.833 1.0)" x="-0.77" style='font-family:"Liberation Serif", serif;font-size:26.5px'>B</text>
<text transform="translate(588.00 32.6) scale(1.157 1.0)" x="-1.01" style='font-family:"Liberation Serif", serif;font-size:26.5px'>0</text>
<text transform="translate(606.00 32.6) scale(0.965 1.0)" x="-2.33" style='font-family:"Liberation Serif", serif;font-size:26.5px'>1</text>
<text transform="translate(620.00 32.6) scale(0.680 1.0)" x="0.21" style='font-family:"Liberation Serif", serif;font-size:26.5px'>_</text>
<text transform="translate(631.10 32.6) scale(1.234 1.0)" x="-1.09" style='font-family:"Liberation Serif", serif;font-size:26.5px'>s</text>
<text transform="translate(643.60 32.6) scale(1.314 1.0)" x="-0.42" style='font-family:"Liberation Serif", serif;font-size:26.5px'>p</text>
<text transform="translate(664.90 32.6) scale(0.901 1.0)" x="-2.33" style='font-family:"Liberation Serif", serif;font-size:26.5px'>1</text>
<text transform="translate(679.10 32.6) scale(1.179 1.0)" x="-1.27" style='font-family:"Liberation Serif", serif;font-size:26.5px'>3</text>
<text transform="translate(696.70 32.6) scale(1.225 1.0)" x="-1.33" style='font-family:"Liberation Serif", serif;font-size:26.5px'>−</text>
<text transform="translate(717.60 32.6) scale(1.068 1.0)" x="-1.01" style='font-family:"Liberation Serif", serif;font-size:26.5px'>0</text>
<text transform="translate(734.00 32.6) scale(1.096 1.0)" x="-1.27" style='font-family:"Liberation Serif", serif;font-size:26.5px'>3</text>
<text transform="translate(750.00 32.6) scale(1.155 1.0)" x="-1.75" style='font-family:"Liberation Serif", serif;font-size:26.5px'>7</text>
<text transform="translate(767.30 32.6) scale(1.151 1.0)" x="-1.75" style='font-family:"Liberation Serif", serif;font-size:26.5px'>.</text>
<text transform="translate(774.00 32.6) scale(0.925 1.0)" x="-0.82" style='font-family:"Liberation Serif", serif;font-size:26.5px'>f</text>
<text transform="translate(784.90 32.6) scale(1.110 1.0)" x="-0.56" style='font-family:"Liberation Serif", serif;font-size:26.5px'>i</text>
<text transform="translate(794.20 32.6) scale(1.239 1.0)" x="-0.27" style='font-family:"Liberation Serif", serif;font-size:26.5px'>t</text>
<text transform="translate(807.00 32.6) scale(1.318 1.0)" x="-1.09" style='font-family:"Liberation Serif", serif;font-size:26.5px'>s</text>
<text transform="translate(146.90 503.3) scale(1.045 1.0)" x="-0.47" style='font-family:"Liberation Sans", sans-serif;font-size:20.5px'>4</text>
<text transform="translate(160.60 503.3) scale(0.990 1.0)" x="-0.80" style='font-family:"Liberation Sans", sans-serif;font-size:20.5px'>0</text>
<text transform="translate(174.00 503.3) scale(0.990 1.0)" x="-0.80" style='font-family:"Liberation Sans", sans-serif;font-size:20.5px'>0</text>
<text transform="translate(187.40 503.3) scale(0.990 1.0)" x="-0.80" style='font-family:"Liberation Sans", sans-serif;font-size:20.5px'>0</text>
<text transform="translate(272.20 503.3) scale(0.998 1.0)" x="-0.82" style='font-family:"Liberation Sans", sans-serif;font-size:20.5px'>5</text>
<text transform="translate(285.60 503.3) scale(0.990 1.0)" x="-0.80" style='font-family:"Liberation Sans", sans-serif;font-size:20.5px'>0</text>
<text transform="translate(299.00 503.3) scale(0.990 1.0)" x="-0.80" style='font-family:"Liberation Sans", sans-serif;font-size:20.5px'>0</text>
<text transform="translate(312.40 503.3) scale(0.990 1.0)" x="-0.80" style='font-family:"Liberation Sans", sans-serif;font-size:20.5px'>0</text>
<text transform="translate(397.20 503.3) scale(1.026 1.0)" x="-1.05" style='font-family:"Liberation Sans", sans-serif;font-size:20.5px'>6</text>
<text transform="translate(410.60 503.3) scale(0.990 1.0)" x="-0.80" style='font-family:"Liberation Sans", sans-serif;font-size:20.5px'>0</text>
<text transform="translate(424.00 503.3) scale(0.990 1.0)" x="-0.80" style='font-family:"Liberation Sans", sans-serif;font-size:20.5px'>0</text>
<text transform="translate(437.40 503.3) scale(0.990 1.0)" x="-0.80" style='font-family:"Liberation Sans", sans-serif;font-size:20.5px'>0</text>
<text transform="translate(522.20 503.3) scale(1.040 1.0)" x="-1.05" style='font-family:"Liberation Sans", sans-serif;font-size:20.5px'>7</text>
<text transform="translate(535.60 503.3) scale(0.990 1.0)" x="-0.80" style='font-family:"Liberation Sans", sans-serif;font-size:20.5px'>0</text>
<text transform="translate(549.00 503.3) scale(0.990 1.0)" x="-0.80" style='font-family:"Liberation Sans", sans-serif;font-size:20.5px'>0</text>
<text transform="translate(562.40 503.3) scale(0.990 1.0)" x="-0.80" style='font-family:"Liberation Sans", sans-serif;font-size:20.5px'>0</text>
<text transform="translate(647.20 503.3) scale(1.007 1.0)" x="-0.88" style='font-family:"Liberation Sans", sans-serif;font-size:20.5px'>8</text>
<text transform="translate(660.60 503.3) scale(0.990 1.0)" x="-0.80" style='font-family:"Liberation Sans", sans-serif;font-size:20.5px'>0</text>
<text transform="translate(674.00 503.3) scale(0.990 1.0)" x="-0.80" style='font-family:"Liberation Sans", sans-serif;font-size:20.5px'>0</text>
<text transform="translate(687.40 503.3) scale(0.990 1.0)" x="-0.80" style='font-family:"Liberation Sans", sans-serif;font-size:20.5px'>0</text>
<text transform="translate(772.20 503.3) scale(1.024 1.0)" x="-0.96" style='font-family:"Liberation Sans", sans-serif;font-size:20.5px'>9</text>
<text transform="translate(785.60 503.3) scale(0.990 1.0)" x="-0.80" style='font-family:"Liberation Sans", sans-serif;font-size:20.5px'>0</text>
<text transform="translate(799.00 503.3) scale(0.990 1.0)" x="-0.80" style='font-family:"Liberation Sans", sans-serif;font-size:20.5px'>0</text>
<text transform="translate(812.40 503.3) scale(0.990 1.0)" x="-0.80" style='font-family:"Liberation Sans", sans-serif;font-size:20.5px'>0</text>
<text transform="translate(116.30 473.0) scale(0.966 1.0)" x="-0.82" style='font-family:"Liberation Sans", sans-serif;font-size:21px'>0</text>
<text transform="translate(91.80 389.4) scale(0.550 1.0)" x="-1.60" style='font-family:"Liberation Sans", sans-serif;font-size:21px'>1</text>
<text transform="translate(102.90 389.4) scale(0.966 1.0)" x="-0.82" style='font-family:"Liberation Sans", sans-serif;font-size:21px'>0</text>
<text transform="translate(116.30 389.4) scale(0.966 1.0)" x="-0.82" style='font-family:"Liberation Sans", sans-serif;font-size:21px'>0</text>
<text transform="translate(89.50 297.1) scale(1.013 1.0)" x="-1.05" style='font-family:"Liberation Sans", sans-serif;font-size:21px'>2</text>
<text transform="translate(102.90 297.1) scale(0.966 1.0)" x="-0.82" style='font-family:"Liberation Sans", sans-serif;font-size:21px'>0</text>
<text transform="translate(116.30 297.1) scale(0.966 1.0)" x="-0.82" style='font-family:"Liberation Sans", sans-serif;font-size:21px'>0</text>
<text transform="translate(89.50 204.5) scale(0.974 1.0)" x="-0.80" style='font-family:"Liberation Sans", sans-serif;font-size:21px'>3</text>
<text transform="translate(102.90 204.5) scale(0.966 1.0)" x="-0.82" style='font-family:"Liberation Sans", sans-serif;font-size:21px'>0</text>
<text transform="translate(116.30 204.5) scale(0.966 1.0)" x="-0.82" style='font-family:"Liberation Sans", sans-serif;font-size:21px'>0</text>
<text transform="translate(89.20 111.4) scale(1.020 1.0)" x="-0.48" style='font-family:"Liberation Sans", sans-serif;font-size:21px'>4</text>
<text transform="translate(102.90 111.4) scale(0.966 1.0)" x="-0.82" style='font-family:"Liberation Sans", sans-serif;font-size:21px'>0</text>
<text transform="translate(116.30 111.4) scale(0.966 1.0)" x="-0.82" style='font-family:"Liberation Sans", sans-serif;font-size:21px'>0</text>
<text transform="translate(389.50 529.5) scale(0.700 1.0)" x="-0.02" style='font-family:"Liberation Serif", serif;font-size:22px'>W</text>
<text transform="translate(406.00 529.5) scale(1.266 1.0)" x="-0.77" style='font-family:"Liberation Serif", serif;font-size:22px'>a</text>
<text transform="translate(418.00 529.5) scale(1.045 1.0)" x="-0.00" style='font-family:"Liberation Serif", serif;font-size:22px'>v</text>
<text transform="translate(431.00 529.5) scale(1.229 1.0)" x="-0.86" style='font-family:"Liberation Serif", serif;font-size:22px'>e</text>
<text transform="translate(442.50 529.5) scale(1.719 1.0)" x="-0.44" style='font-family:"Liberation Serif", serif;font-size:22px'>l</text>
<text transform="translate(454.50 529.5) scale(1.290 1.0)" x="-0.86" style='font-family:"Liberation Serif", serif;font-size:22px'>e</text>
<text transform="translate(466.50 529.5) scale(0.984 1.0)" x="-0.51" style='font-family:"Liberation Serif", serif;font-size:22px'>n</text>
<text transform="translate(477.10 529.5) scale(1.100 1.0)" x="-0.95" style='font-family:"Liberation Serif", serif;font-size:22px'>g</text>
<text transform="translate(488.80 529.5) scale(1.371 1.0)" x="-0.22" style='font-family:"Liberation Serif", serif;font-size:22px'>t</text>
<text transform="translate(498.80 529.5) scale(1.210 1.0)" x="-0.22" style='font-family:"Liberation Serif", serif;font-size:22px'>h</text>
<text transform="translate(527.30 529.5) scale(0.937 1.0)" x="-0.97" style='font-family:"Liberation Serif", serif;font-size:22px'>(</text>
<text transform="translate(534.20 529.5) scale(0.780 1.0)" x="-0.22" style='font-family:"Liberation Serif", serif;font-size:22px'>Å</text>
<text transform="translate(547.40 529.5) scale(0.920 1.0)" x="-0.70" style='font-family:"Liberation Serif", serif;font-size:22px'>)</text>
<g transform="translate(71.2 0) rotate(-90)" style="stroke:#000;stroke-width:0.35px">
<text transform="translate(-339.70 0) scale(1.028 1.0)" x="-0.64" style='font-family:"Liberation Serif", serif;font-size:22px'>F</text>
<text transform="translate(-326.50 0) scale(1.184 1.0)" x="-0.44" style='font-family:"Liberation Serif", serif;font-size:22px'>l</text>
<text transform="translate(-316.10 0) scale(0.735 1.0)" x="-0.29" style='font-family:"Liberation Serif", serif;font-size:22px'>u</text>
<text transform="translate(-305.70 0) scale(0.987 1.0)" x="-0.20" style='font-family:"Liberation Serif", serif;font-size:22px'>x</text>
<text transform="translate(-280.70 0) scale(0.990 1.0)" x="-0.97" style='font-family:"Liberation Serif", serif;font-size:22px'>(</text>
<text transform="translate(-272.40 0) scale(0.837 1.0)" x="-0.44" style='font-family:"Liberation Serif", serif;font-size:22px'>r</text>
<text transform="translate(-261.10 0) scale(1.106 1.0)" x="-0.86" style='font-family:"Liberation Serif", serif;font-size:22px'>e</text>
<text transform="translate(-248.60 0) scale(1.318 1.0)" x="-0.44" style='font-family:"Liberation Serif", serif;font-size:22px'>l</text>
<text transform="translate(-239.60 0) scale(0.955 1.0)" x="-0.77" style='font-family:"Liberation Serif", serif;font-size:22px'>a</text>
<text transform="translate(-229.90 0) scale(1.214 1.0)" x="-0.22" style='font-family:"Liberation Serif", serif;font-size:22px'>t</text>
<text transform="translate(-220.10 0) scale(1.184 1.0)" x="-0.46" style='font-family:"Liberation Serif", serif;font-size:22px'>i</text>
<text transform="translate(-210.40 0) scale(0.755 1.0)" x="-0.00" style='font-family:"Liberation Serif", serif;font-size:22px'>v</text>
<text transform="translate(-197.90 0) scale(1.106 1.0)" x="-0.86" style='font-family:"Liberation Serif", serif;font-size:22px'>e</text>
<text transform="translate(-186.10 0) scale(1.097 1.0)" x="-0.70" style='font-family:"Liberation Serif", serif;font-size:22px'>)</text>
</g>
<text x="172" y="61.5" style='font-family:"Liberation Serif", serif;font-size:15.3px' textLength="18" lengthAdjust="spacingAndGlyphs" font-weight="bold">SII</text>
<text x="643.1" y="96" style='font-family:"Liberation Serif", serif;font-size:15.3px' textLength="17.9" lengthAdjust="spacingAndGlyphs" font-weight="bold">SII</text>
<text x="129.2" y="95.8" style='font-family:"Liberation Serif", serif;font-size:15.3px' textLength="18.3" lengthAdjust="spacingAndGlyphs" font-weight="bold">OII</text>
<text x="137.7" y="78.5" style='font-family:"Liberation Serif", serif;font-size:15.3px' textLength="18.2" lengthAdjust="spacingAndGlyphs" >H<tspan font-style="italic">θ</tspan></text>
<text transform="translate(135.80 560) scale(1.046 1.0)" x="-1.88" style='font-family:"Liberation Serif", serif;font-size:28px'>S</text>
<text transform="translate(150.00 560) scale(0.930 1.0)" x="-0.50" style='font-family:"Liberation Serif", serif;font-size:28px'>T</text>
<text transform="translate(165.80 560) scale(0.846 1.0)" x="-0.28" style='font-family:"Liberation Serif", serif;font-size:28px'>A</text>
<text transform="translate(183.30 560) scale(0.936 1.0)" x="-0.81" style='font-family:"Liberation Serif", serif;font-size:28px'>R</text>
<text transform="translate(241.70 560) scale(0.915 1.0)" x="-0.81" style='font-family:"Liberation Serif", serif;font-size:28px'>K</text>
<text transform="translate(261.70 560) scale(1.015 1.0)" x="-2.46" style='font-family:"Liberation Serif", serif;font-size:28px'>1</text>
<text transform="translate(607.80 560) scale(0.876 1.0)" x="-0.81" style='font-family:"Liberation Serif", serif;font-size:28px'>L</text>
<text transform="translate(622.20 560) scale(0.760 1.0)" x="-0.28" style='font-family:"Liberation Serif", serif;font-size:28px'>A</text>
<text transform="translate(638.30 560) scale(0.885 1.0)" x="-0.81" style='font-family:"Liberation Serif", serif;font-size:28px'>M</text>
<text transform="translate(660.60 560) scale(0.898 1.0)" x="-1.15" style='font-family:"Liberation Serif", serif;font-size:28px'>O</text>
<text transform="translate(679.40 560) scale(1.071 1.0)" x="-1.88" style='font-family:"Liberation Serif", serif;font-size:28px'>S</text>
<text transform="translate(693.30 560) scale(0.930 1.0)" x="-0.50" style='font-family:"Liberation Serif", serif;font-size:28px'>T</text>
<text transform="translate(723.90 560) scale(0.848 1.0)" x="-0.81" style='font-family:"Liberation Serif", serif;font-size:28px'>D</text>
<text transform="translate(741.10 560) scale(0.936 1.0)" x="-0.81" style='font-family:"Liberation Serif", serif;font-size:28px'>R</text>
<text transform="translate(761.10 560) scale(1.140 1.0)" x="-1.23" style='font-family:"Liberation Serif", serif;font-size:28px'>2</text>
<text transform="translate(607.90 589.6) scale(0.747 1.0)" x="-0.84" style='font-family:"Liberation Serif", serif;font-size:20.5px'>O</text>
<text transform="translate(621.30 589.6) scale(0.971 1.0)" x="-0.00" style='font-family:"Liberation Serif", serif;font-size:20.5px'>b</text>
<text transform="translate(633.60 589.6) scale(1.141 1.0)" x="-0.84" style='font-family:"Liberation Serif", serif;font-size:20.5px'>s</text>
<text transform="translate(644.60 589.6) scale(1.154 1.0)" x="-1.03" style='font-family:"Liberation Serif", serif;font-size:20.5px'>−</text>
<text transform="translate(659.20 589.6) scale(0.777 1.0)" x="-0.59" style='font-family:"Liberation Serif", serif;font-size:20.5px'>D</text>
<text transform="translate(673.90 589.6) scale(1.062 1.0)" x="-0.72" style='font-family:"Liberation Serif", serif;font-size:20.5px'>a</text>
<text transform="translate(683.70 589.6) scale(1.359 1.0)" x="-0.21" style='font-family:"Liberation Serif", serif;font-size:20.5px'>t</text>
<text transform="translate(693.50 589.6) scale(1.121 1.0)" x="-0.80" style='font-family:"Liberation Serif", serif;font-size:20.5px'>e</text>
<text transform="translate(705.00 589.6) scale(1.282 1.0)" x="-1.62" style='font-family:"Liberation Serif", serif;font-size:20.5px'>:</text>
<text transform="translate(719.70 589.6) scale(1.241 1.0)" x="-0.90" style='font-family:"Liberation Serif", serif;font-size:20.5px'>2</text>
<text transform="translate(731.80 589.6) scale(1.104 1.0)" x="-0.78" style='font-family:"Liberation Serif", serif;font-size:20.5px'>0</text>
<text transform="translate(745.20 589.6) scale(0.887 1.0)" x="-1.80" style='font-family:"Liberation Serif", serif;font-size:20.5px'>1</text>
<text transform="translate(755.40 589.6) scale(1.134 1.0)" x="-0.98" style='font-family:"Liberation Serif", serif;font-size:20.5px'>3</text>
<text transform="translate(769.50 589.6) scale(0.887 1.0)" x="-1.80" style='font-family:"Liberation Serif", serif;font-size:20.5px'>1</text>
<text transform="translate(781.00 589.6) scale(0.790 1.0)" x="-1.80" style='font-family:"Liberation Serif", serif;font-size:20.5px'>1</text>
<text transform="translate(790.60 589.6) scale(1.156 1.0)" x="-0.90" style='font-family:"Liberation Serif", serif;font-size:20.5px'>2</text>
<text transform="translate(802.70 589.6) scale(1.241 1.0)" x="-0.90" style='font-family:"Liberation Serif", serif;font-size:20.5px'>2</text>
<text transform="translate(136.00 589.4) scale(1.164 1.0)" x="-0.78" style='font-family:"Liberation Sans", sans-serif;font-size:18.5px'>c</text>
<text transform="translate(146.70 589.4) scale(1.137 1.0)" x="-0.76" style='font-family:"Liberation Sans", sans-serif;font-size:18.5px'>z</text>
<text transform="translate(167.30 589.4) scale(1.452 1.0)" x="-0.88" style='font-family:"Liberation Sans", sans-serif;font-size:18px'>=</text>
<text transform="translate(192.70 589.4) scale(1.372 1.0)" x="-0.88" style='font-family:"Liberation Sans", sans-serif;font-size:18px'>−</text>
<text transform="translate(207.30 589.4) scale(1.306 1.0)" x="-0.92" style='font-family:"Liberation Sans", sans-serif;font-size:18px'>7</text>
<text transform="translate(220.70 589.4) scale(1.157 1.0)" x="-1.64" style='font-family:"Liberation Sans", sans-serif;font-size:18px'>.</text>
<text transform="translate(225.30 589.4) scale(1.182 1.0)" x="-0.77" style='font-family:"Liberation Sans", sans-serif;font-size:18px'>8</text>
<text transform="translate(247.80 589.4) scale(1.246 1.0)" x="-0.58" style='font-family:"Liberation Sans", sans-serif;font-size:18px'>±</text>
<text transform="translate(272.70 589.4) scale(1.096 1.0)" x="-1.37" style='font-family:"Liberation Sans", sans-serif;font-size:18px'>1</text>
<text transform="translate(282.80 589.4) scale(1.090 1.0)" x="-0.72" style='font-family:"Liberation Sans", sans-serif;font-size:18px'>5</text>
<text transform="translate(296.80 589.4) scale(1.331 1.0)" x="-1.64" style='font-family:"Liberation Sans", sans-serif;font-size:18px'>.</text>
<text transform="translate(301.40 589.4) scale(1.130 1.0)" x="-0.85" style='font-family:"Liberation Sans", sans-serif;font-size:18px'>9</text>
<text transform="translate(322.40 589.4) scale(1.225 1.0)" x="-0.35" style='font-family:"Liberation Serif", serif;font-size:18.5px'>k</text>
<text transform="translate(334.90 589.4) scale(1.131 1.0)" x="-0.39" style='font-family:"Liberation Serif", serif;font-size:18.5px'>m</text>
<text transform="translate(352.00 589.4) scale(2.411 1.0)" x="-0.00" style='font-family:"Liberation Serif", serif;font-size:18.5px'>/</text>
<text transform="translate(366.00 589.4) scale(1.473 1.0)" x="-0.76" style='font-family:"Liberation Serif", serif;font-size:18.5px'>s</text>
<text transform="translate(136.00 619.4) scale(1.049 1.0)" x="-0.55" style='font-family:"Liberation Serif", serif;font-size:19px'>R</text>
<text transform="translate(148.50 619.4) scale(0.761 1.0)" x="-0.19" style='font-family:"Liberation Serif", serif;font-size:19px'>A</text>
<text transform="translate(170.70 619.4) scale(1.440 1.0)" x="-0.88" style='font-family:"Liberation Sans", sans-serif;font-size:18px'>=</text>
<text transform="translate(214.00 619.4) scale(1.218 1.0)" x="-0.90" style='font-family:"Liberation Sans", sans-serif;font-size:18px'>2</text>
<text transform="translate(227.00 619.4) scale(1.157 1.0)" x="-1.64" style='font-family:"Liberation Sans", sans-serif;font-size:18px'>.</text>
<text transform="translate(232.00 619.4) scale(1.218 1.0)" x="-0.90" style='font-family:"Liberation Sans", sans-serif;font-size:18px'>2</text>
<text transform="translate(244.00 619.4) scale(1.137 1.0)" x="-0.72" style='font-family:"Liberation Sans", sans-serif;font-size:18px'>5</text>
<text transform="translate(256.00 619.4) scale(1.205 1.0)" x="-0.92" style='font-family:"Liberation Sans", sans-serif;font-size:18px'>6</text>
<text transform="translate(268.70 619.4) scale(1.172 1.0)" x="-0.72" style='font-family:"Liberation Sans", sans-serif;font-size:18px'>5</text>
<text transform="translate(280.70 619.4) scale(1.081 1.0)" x="-0.70" style='font-family:"Liberation Sans", sans-serif;font-size:18px'>0</text>
<text transform="translate(291.30 619.4) scale(1.927 1.0)" x="-1.62" style='font-family:"Liberation Sans", sans-serif;font-size:18px'>,</text>
<text transform="translate(306.70 619.4) scale(0.967 1.0)" x="-0.55" style='font-family:"Liberation Serif", serif;font-size:19px'>D</text>
<text transform="translate(320.70 619.4) scale(1.049 1.0)" x="-0.55" style='font-family:"Liberation Serif", serif;font-size:19px'>E</text>
<text transform="translate(333.30 619.4) scale(0.922 1.0)" x="-0.78" style='font-family:"Liberation Serif", serif;font-size:19px'>C</text>
<text transform="translate(355.60 619.4) scale(1.326 1.0)" x="-0.88" style='font-family:"Liberation Sans", sans-serif;font-size:18px'>=</text>
<text transform="translate(389.00 619.4) scale(1.201 1.0)" x="-0.41" style='font-family:"Liberation Sans", sans-serif;font-size:18px'>4</text>
<text transform="translate(401.30 619.4) scale(1.028 1.0)" x="-0.77" style='font-family:"Liberation Sans", sans-serif;font-size:18px'>8</text>
<text transform="translate(413.60 619.4) scale(1.273 1.0)" x="-1.64" style='font-family:"Liberation Sans", sans-serif;font-size:18px'>.</text>
<text transform="translate(418.60 619.4) scale(1.195 1.0)" x="-0.68" style='font-family:"Liberation Sans", sans-serif;font-size:18px'>3</text>
<text transform="translate(430.90 619.4) scale(1.102 1.0)" x="-0.68" style='font-family:"Liberation Sans", sans-serif;font-size:18px'>3</text>
<text transform="translate(443.90 619.4) scale(0.657 1.0)" x="-1.37" style='font-family:"Liberation Sans", sans-serif;font-size:18px'>1</text>
<text transform="translate(454.00 619.4) scale(1.102 1.0)" x="-0.72" style='font-family:"Liberation Sans", sans-serif;font-size:18px'>5</text>
<text transform="translate(465.60 619.4) scale(1.190 1.0)" x="-0.41" style='font-family:"Liberation Sans", sans-serif;font-size:18px'>4</text>
</svg></body></html>
